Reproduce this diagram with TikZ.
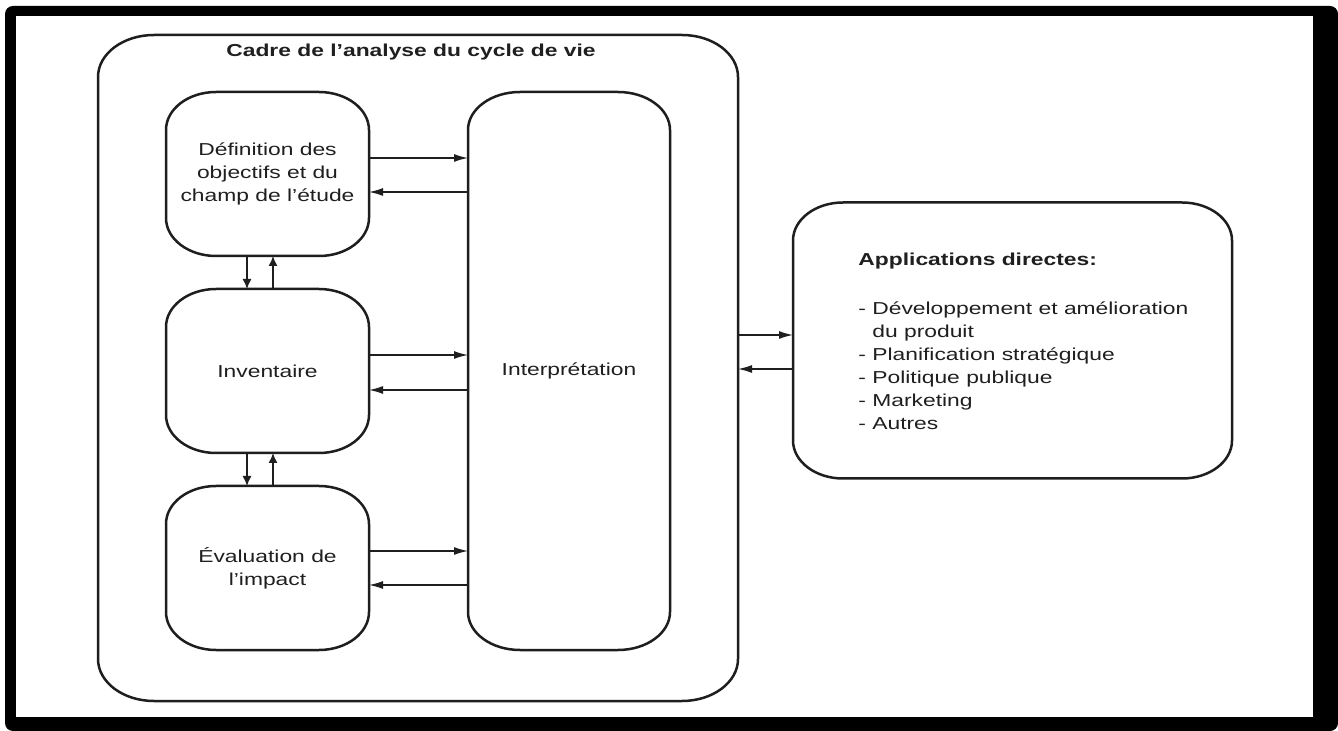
\documentclass[tikz,border=0pt]{standalone}
\usepackage{fontspec}
\setmainfont{Liberation Sans}[FakeStretch=1.32]
\usetikzlibrary{arrows.meta}
\definecolor{ink}{HTML}{1E1E1E}
\definecolor{txt}{HTML}{1F1F1F}

% rounded box with elliptical corners drawn around a named node
\newcommand\softbox[3]{%
  \draw[boxline] ([xshift=#2]#1.north west) -- ([xshift=-#2]#1.north east)
    arc[start angle=90,end angle=0,x radius=#2,y radius=#3]
    -- ([yshift=#3]#1.south east)
    arc[start angle=0,end angle=-90,x radius=#2,y radius=#3]
    -- ([xshift=#2]#1.south west)
    arc[start angle=270,end angle=180,x radius=#2,y radius=#3]
    -- ([yshift=-#3]#1.north west)
    arc[start angle=180,end angle=90,x radius=#2,y radius=#3] -- cycle;}

\begin{document}
\begin{tikzpicture}[x=0.5pt,y=-0.5pt,
  boxline/.style={draw=ink,line width=1.25pt},
  area/.style={shape=rectangle,inner sep=0pt,outer sep=0pt},
  label/.style={text=txt,font=\fontsize{8.65}{11.5}\selectfont,align=center},
  harrow/.style={draw=txt,line width=0.7pt,-{Latex[length=7pt,width=4pt]}},
  varrow/.style={draw=txt,line width=0.7pt,-{Latex[length=5pt,width=4.5pt]}}]

% page and black frame
\useasboundingbox (0,0) rectangle (1338,731);
\fill[white] (0,0) rectangle (1338,731);
\fill[black,rounded corners=4pt] (5,6) rectangle (1338,731);
\fill[white] (16,16) rectangle (1313,717);

% box areas
\node[area,minimum width=320pt,minimum height=333pt] (cadre) at (418,368) {};
\node[area,minimum width=101.5pt,minimum height=82pt] (def) at (267.5,174) {};
\node[area,minimum width=101.5pt,minimum height=82pt] (inv) at (267.5,371) {};
\node[area,minimum width=101.5pt,minimum height=82pt] (eval) at (267.5,568) {};
\node[area,minimum width=101pt,minimum height=279pt] (interp) at (569,371) {};
\node[area,minimum width=219.5pt,minimum height=138pt] (app) at (1012.5,340.5) {};

\softbox{cadre}{28pt}{21pt}
\softbox{def}{25pt}{19pt}
\softbox{inv}{25pt}{19pt}
\softbox{eval}{25pt}{19pt}
\softbox{interp}{26pt}{19pt}
\softbox{app}{25pt}{19pt}

% texts
\node[label,font=\fontsize{8.65}{11.5}\selectfont\bfseries] (ttl) at (411,52) {Cadre de l'analyse du cycle de vie};
\node[label] (tdef) at (def) {Définition des\\objectifs et du\\champ de l'étude};
\node[label] (tinv) at (inv) {Inventaire};
\node[label] (teval) at (eval) {Évaluation de\\l'impact};
\node[label] (tint) at (interp) {Interprétation};
\node[label,align=left,anchor=west,inner sep=0pt] (tapp) at (858,341) {%
  \textbf{Applications directes:}\\[13pt]
  - Développement et amélioration\\
  \phantom{- }du produit\\
  - Planification stratégique\\
  - Politique publique\\
  - Marketing\\
  - Autres};

% levels of the horizontal connectors
\coordinate (d1) at (0,158);
\coordinate (d2) at (0,192);
\coordinate (i1) at (0,355);
\coordinate (i2) at (0,390);
\coordinate (e1) at (0,551);
\coordinate (e2) at (0,585);
\coordinate (a1) at (0,335);
\coordinate (a2) at (0,369);
% columns of the vertical connectors
\coordinate (c1) at (247,0);
\coordinate (c2) at (273,0);

\draw[harrow] (def.east |- d1) -- (interp.west |- d1);
\draw[harrow] (interp.west |- d2) -- (def.east |- d2);
\draw[harrow] (inv.east |- i1) -- (interp.west |- i1);
\draw[harrow] (interp.west |- i2) -- (inv.east |- i2);
\draw[harrow] (eval.east |- e1) -- (interp.west |- e1);
\draw[harrow] (interp.west |- e2) -- (eval.east |- e2);

\draw[varrow] (def.south -| c1) -- (inv.north -| c1);
\draw[varrow] (inv.north -| c2) -- (def.south -| c2);
\draw[varrow] (inv.south -| c1) -- (eval.north -| c1);
\draw[varrow] (eval.north -| c2) -- (inv.south -| c2);

\draw[harrow] (cadre.east |- a1) -- (app.west |- a1);
\draw[harrow] (app.west |- a2) -- (cadre.east |- a2);
\end{tikzpicture}
\end{document}
